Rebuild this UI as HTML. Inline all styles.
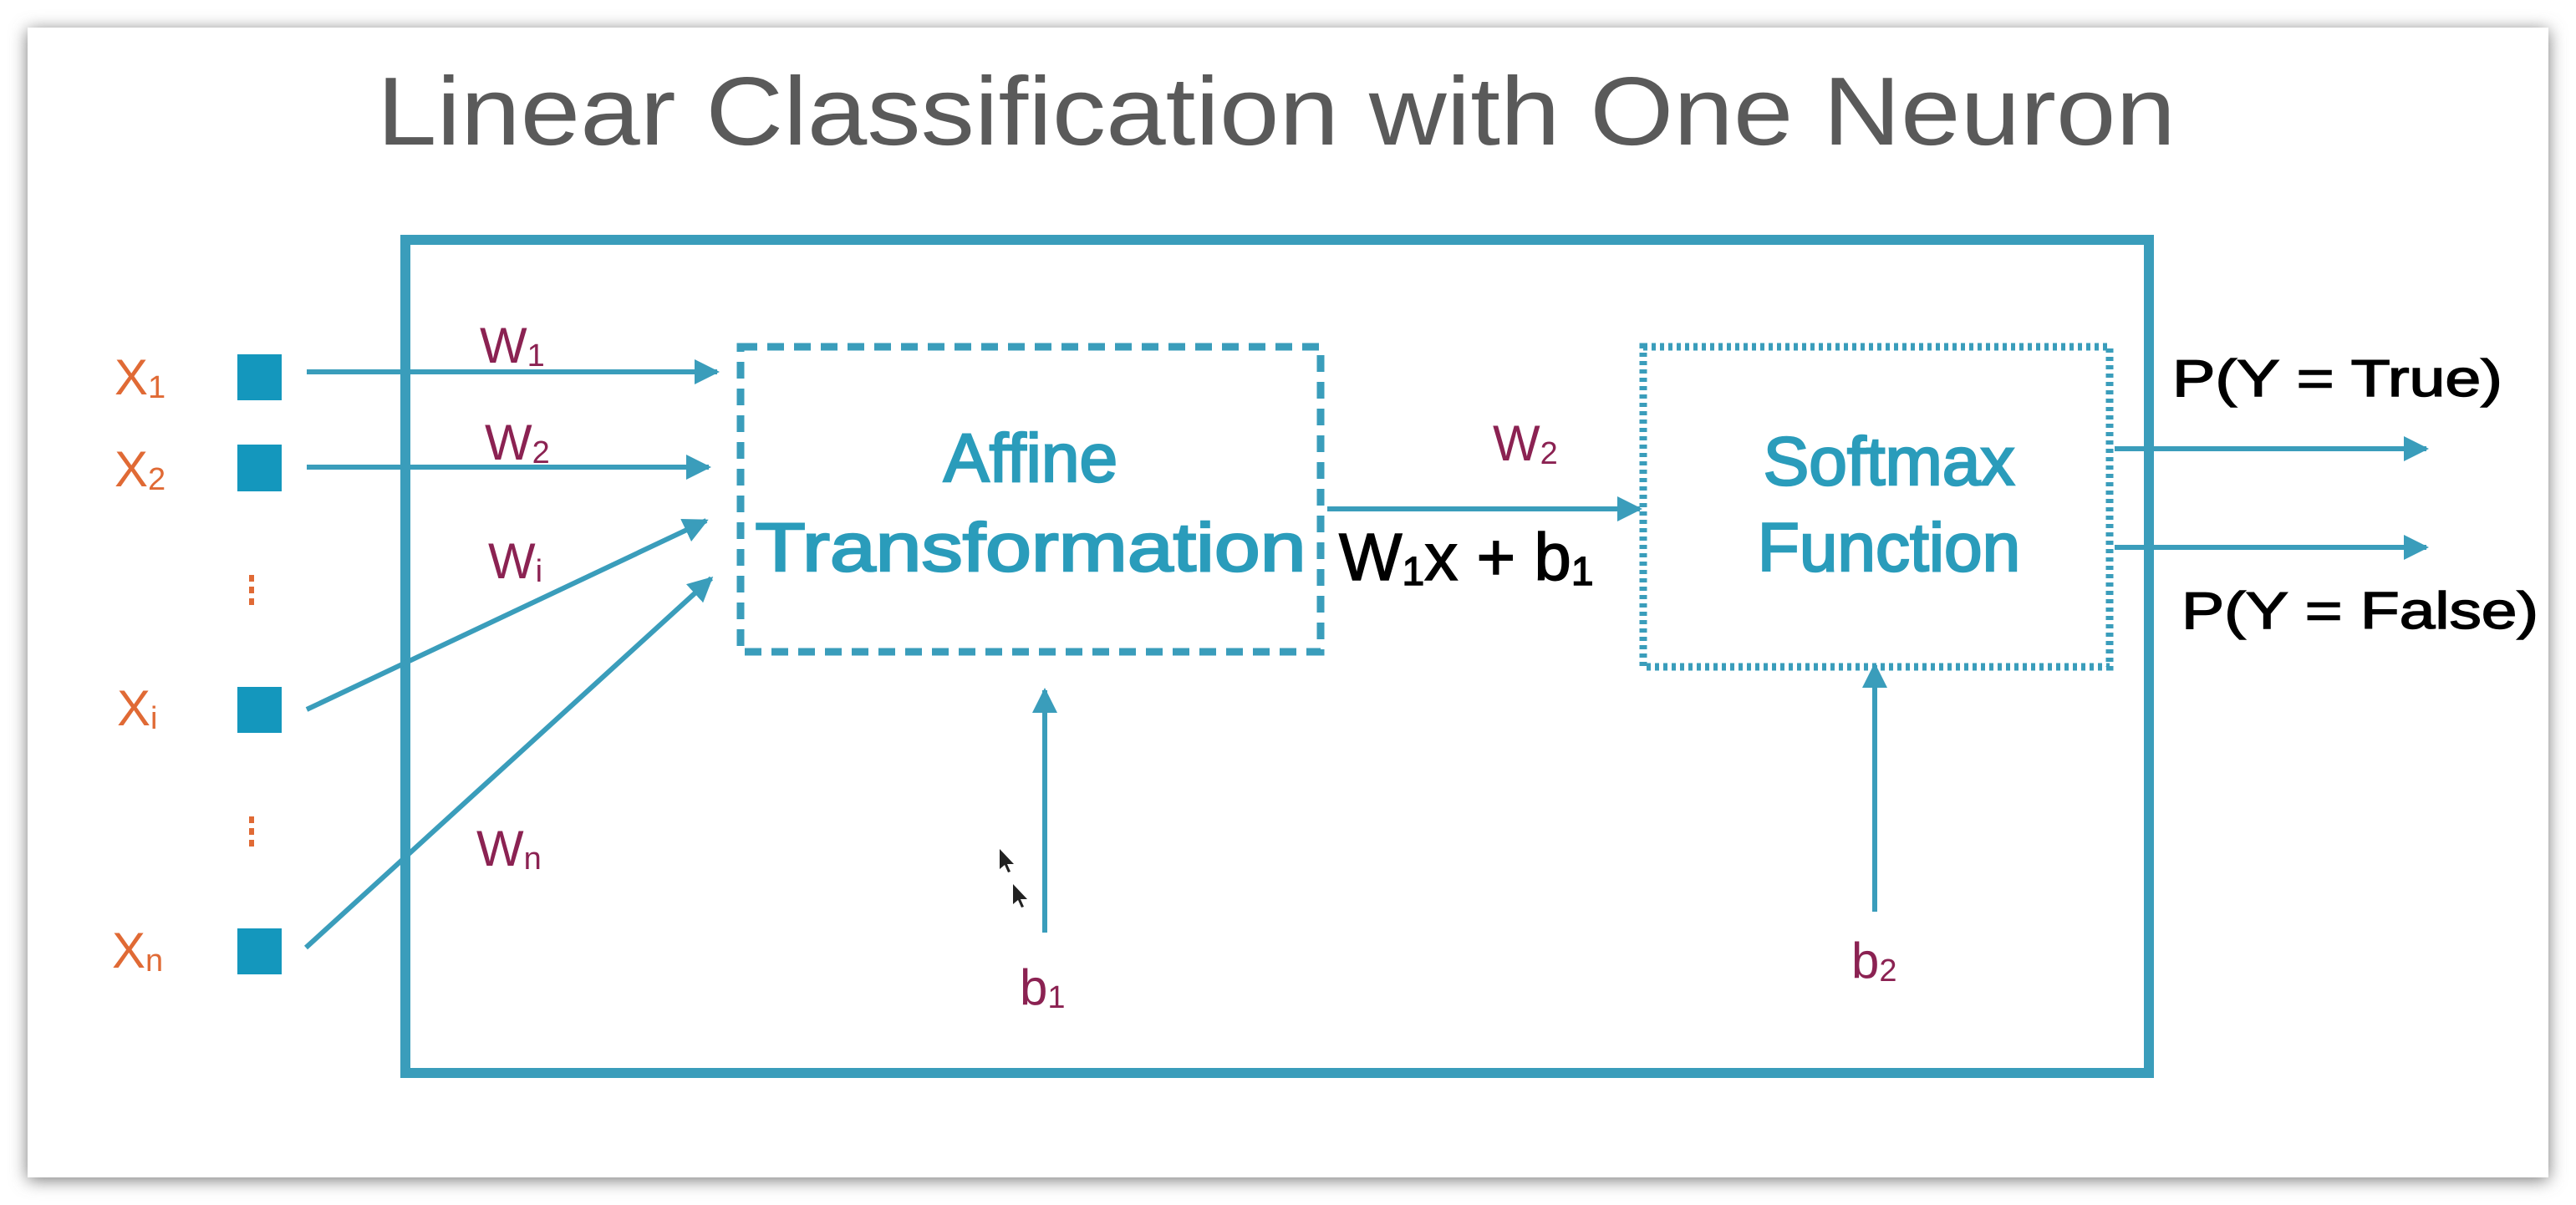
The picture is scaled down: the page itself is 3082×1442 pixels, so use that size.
<!DOCTYPE html>
<html><head><meta charset="utf-8"><style>
html,body{margin:0;padding:0;background:#fff;width:3082px;height:1442px;overflow:hidden}
</style></head><body>
<svg width="3082" height="1442" viewBox="0 0 3082 1442" xmlns="http://www.w3.org/2000/svg" font-family="Liberation Sans, sans-serif">
<defs>
<filter id="sh" x="-5%" y="-5%" width="110%" height="110%"><feGaussianBlur stdDeviation="10"/></filter>
<marker id="ar" viewBox="0 0 10 10" refX="9" refY="5" markerWidth="5" markerHeight="5" orient="auto" markerUnits="strokeWidth"><path d="M0,0 L10,5 L0,10 z" fill="#3a9dbb"/></marker>
</defs>
<rect x="33" y="36" width="3016" height="1376" fill="#777" filter="url(#sh)"/>
<rect x="33" y="33" width="3016" height="1376" fill="#fff"/>
<text x="1527" y="173" text-anchor="middle" font-size="116" fill="#5a5a5a" textLength="2152" lengthAdjust="spacingAndGlyphs">Linear Classification with One Neuron</text>
<rect x="485" y="287" width="2086" height="997" fill="none" stroke="#3a9dbb" stroke-width="12"/>
<g fill="#1497bd">
<rect x="284" y="424" width="53" height="55"/>
<rect x="284" y="532" width="53" height="56"/>
<rect x="284" y="822" width="53" height="55"/>
<rect x="284" y="1111" width="53" height="55"/>
</g>
<g fill="#e06a35" font-size="60">
<text x="137" y="472">X<tspan font-size="38" dy="4">1</tspan></text>
<text x="137" y="582">X<tspan font-size="38" dy="4">2</tspan></text>
<text x="140" y="868">X<tspan font-size="38" dy="4">i</tspan></text>
<text x="134" y="1158">X<tspan font-size="38" dy="4">n</tspan></text>
</g>
<g fill="#e06a35">
<rect x="298" y="688" width="6" height="8"/><rect x="298" y="702" width="6" height="8"/><rect x="298" y="716" width="6" height="8"/>
<rect x="298" y="977" width="6" height="8"/><rect x="298" y="991" width="6" height="8"/><rect x="298" y="1005" width="6" height="8"/>
</g>
<g stroke="#3a9dbb" stroke-width="6" fill="none" marker-end="url(#ar)">
<line x1="367" y1="445" x2="858" y2="445"/>
<line x1="367" y1="559" x2="848" y2="559"/>
<line x1="367" y1="849" x2="845" y2="623"/>
<line x1="366" y1="1134" x2="851" y2="692"/>
<line x1="1588" y1="609" x2="1962" y2="609"/>
<line x1="1250" y1="1116" x2="1250" y2="826"/>
<line x1="2243" y1="1091" x2="2243" y2="796"/>
<line x1="2530" y1="537" x2="2903" y2="537"/>
<line x1="2530" y1="655" x2="2903" y2="655"/>
</g>
<g fill="#8b2252" font-size="60">
<text x="574" y="434">W<tspan font-size="38" dy="4">1</tspan></text>
<text x="580" y="550">W<tspan font-size="38" dy="4">2</tspan></text>
<text x="584" y="692">W<tspan font-size="38" dy="4">i</tspan></text>
<text x="570" y="1036">W<tspan font-size="38" dy="4">n</tspan></text>
<text x="1786" y="551">W<tspan font-size="38" dy="4">2</tspan></text>
<text x="1220" y="1202">b<tspan font-size="38" dy="4">1</tspan></text>
<text x="2215" y="1170">b<tspan font-size="38" dy="4">2</tspan></text>
</g>
<rect x="886" y="415" width="694" height="365" fill="none" stroke="#3a9dbb" stroke-width="9" stroke-dasharray="20 12"/>
<rect x="1966" y="415" width="558" height="383" fill="none" stroke="#3a9dbb" stroke-width="9" stroke-dasharray="5 5"/>
<g fill="#2a9cbb" stroke="#2a9cbb" stroke-width="2.5" font-size="82" text-anchor="middle">
<text x="1233" y="576">Affine</text>
<text x="1233" y="683" textLength="659" lengthAdjust="spacingAndGlyphs">Transformation</text>
<text x="2260" y="580">Softmax</text>
<text x="2260" y="683">Function</text>
</g>
<text x="1602" y="694" font-size="80" fill="#000" stroke="#000" stroke-width="1.5">W<tspan font-size="48" dy="6">1</tspan><tspan dy="-6">x + b</tspan><tspan font-size="48" dy="6">1</tspan></text>
<g fill="#000" stroke="#000" stroke-width="1.5" font-size="62">
<text x="2599" y="474" textLength="395" lengthAdjust="spacingAndGlyphs">P(Y = True)</text>
<text x="2610" y="752" textLength="427" lengthAdjust="spacingAndGlyphs">P(Y = False)</text>
</g>
<g fill="#222">
<path d="M1196,1016 l0,24 l6,-5 l4,9 l3,-1 l-4,-9 l8,0 z"/>
<path d="M1212,1058 l0,24 l6,-5 l4,9 l3,-1 l-4,-9 l8,0 z"/>
</g>
</svg>
</body></html>
